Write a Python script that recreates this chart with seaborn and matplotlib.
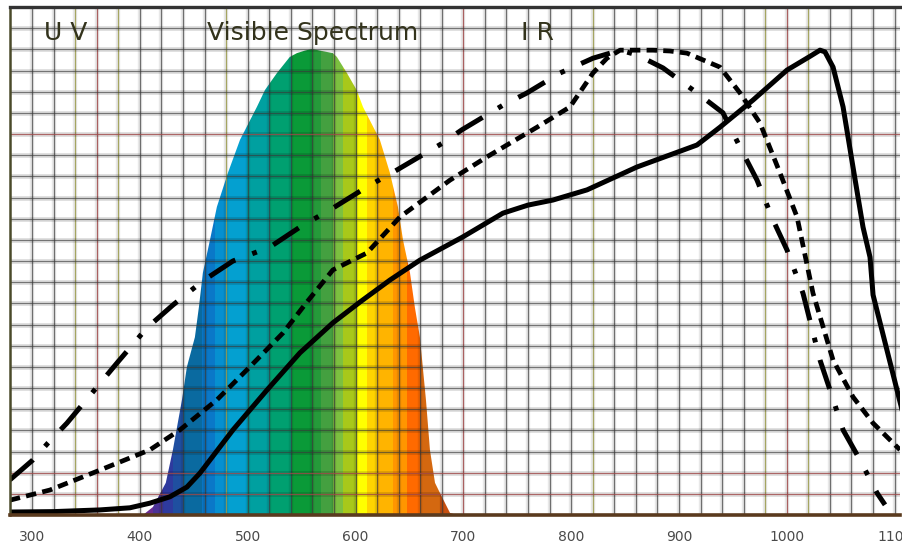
import numpy as np
import matplotlib
matplotlib.use("Agg")
import matplotlib.pyplot as plt
from matplotlib.patches import PathPatch
import seaborn as sns

# ---------------- data ----------------
solid_nm = [279.4, 320, 362.9, 390.7, 409.3, 427.8, 443.6, 455.7, 486.3, 517.8, 548.4, 579.0,
            604.1, 631.9, 659.7, 699.6, 736.7, 759.9, 783.1, 814.7, 861.0, 916.7, 938.0, 968.6,
            1000.2, 1020.6, 1030.8, 1035.4, 1042.9, 1052.2, 1061.4, 1070.7, 1077.2, 1080.0, 1106.9]
solid_val = [0.7, 0.8, 1.2, 1.7, 2.8, 4.3, 6.6, 9.9, 20.1, 29.5, 38.3, 45.4,
             50.3, 55.5, 60.2, 65.7, 71.3, 73.2, 74.4, 76.8, 82.2, 87.4, 91.6, 98.0,
             105.1, 108.2, 109.8, 109.4, 105.8, 96.4, 82.2, 68.0, 60.9, 52.0, 24.8]

dashed_nm = [279.4, 316.5, 362.9, 409.3, 437.1, 471.4, 502.0, 532.7, 554.9, 579.0, 610.6, 641.2,
             687.6, 721.9, 768.3, 798.9, 820.2, 833.2, 845.3, 875.9, 891.7, 907.4, 938.0, 956.6,
             975.1, 993.7, 1009.5, 1024.3, 1042.9, 1061.4, 1080.0, 1105.0]
dashed_val = [3.5, 5.9, 10.6, 15.4, 20.1, 27.2, 35.0, 43.0, 50.3, 57.9, 61.9, 70.4,
              79.1, 84.6, 91.6, 96.4, 104.4, 107.9, 109.8, 109.8, 109.6, 109.1, 105.8, 99.7,
              92.6, 80.8, 70.4, 52.4, 36.6, 27.9, 21.7, 15.4]

dashdot_nm = [279.4, 300.7, 314.7, 332.3, 360.1, 378.7, 406.5, 430.6, 458.4, 486.3, 520.6, 548.4,
              579.0, 610.6, 638.4, 681.1, 698.7, 736.7, 759.0, 789.6, 820.2, 845.3, 861.0, 885.2,
              916.7, 940.8, 959.4, 972.4, 987.2, 1000.2, 1015.0, 1030.8, 1040.1, 1052.2, 1067.9,
              1083.7, 1091.1]
dashdot_val = [8.3, 13.0, 17.0, 21.7, 30.2, 35.9, 44.2, 49.6, 55.3, 60.0, 63.3, 68.0,
               72.5, 77.5, 81.5, 87.9, 91.0, 96.8, 99.7, 104.4, 107.9, 109.8, 108.7, 105.6,
               99.7, 95.0, 85.5, 79.1, 69.7, 62.6, 52.4, 36.6, 29.5, 20.1, 13.0,
               5.2, 2.4]

spec_nm = [402.8, 412.1, 424.0, 430.6, 439.0, 443.6, 451.0, 454.7, 458.4, 465.0, 471.4, 481.6,
           492.8, 508.5, 516.0, 527.1, 539.0, 545.6, 553.0, 559.6, 567.0, 579.0, 582.7, 592.0,
           601.0, 606.9, 622.6, 631.9, 639.3, 644.0, 650.5, 655.0, 659.7, 665.3, 669.0, 673.7,
           678.3, 687.6, 694.0]
spec_val = [0.0, 1.9, 7.6, 15.4, 27.2, 35.0, 42.0, 49.1, 57.2, 65.0, 72.8, 80.8,
            88.6, 96.4, 100.4, 104.4, 108.2, 109.1, 109.7, 110.1, 109.7, 109.1, 108.2, 104.4,
            100.4, 96.4, 88.6, 80.8, 72.8, 65.0, 57.2, 49.1, 42.0, 27.2, 15.4, 7.6,
            5.2, 0.5, 0.0]

band_edges = [400, 412, 421, 431, 440, 458, 470, 481, 499, 521, 541, 560, 568, 579, 588,
              601, 611, 620, 635, 648, 660, 678, 700]
band_colors = ["#6a2c91", "#4b3296", "#2e3a9e", "#1f4fa0", "#0a6aa0", "#0a78c8", "#0690d0",
               "#04a0d0", "#00a0a0", "#00a070", "#0a9a38", "#259a3a", "#44a040", "#7cc040",
               "#a8c81a", "#ffff00", "#ffd400", "#ffb400", "#ff9600", "#ff6a00", "#d46810",
               "#c85010"]

tick_nm = [300, 400, 500, 600, 700, 800, 900, 1000, 1100]
tick_labels = ["300", "400", "500", "600", "700", "800", "900", "1000", "1100"]

region_labels = ["U V", "Visible Spectrum", "I R"]
region_x = [331, 560, 769]
region_y = 113.8

grid_v = list(range(300, 1101, 20))
grid_h = list(range(5, 120, 5))
red_v = [360, 700, 1000]
olive_v = [340, 380, 480, 820, 980, 1020]
red_h = [5, 10, 90]

# ---------------- figure ----------------
sns.set_theme(style="white")
plt.rcParams["lines.scale_dashes"] = False
fig = plt.figure(figsize=(9.02, 5.48), dpi=100)
fig.patch.set_facecolor("white")
ax = fig.add_axes([10 / 902, 33 / 548, 890 / 902, 508 / 548])
ax.set_xlim(279.5, 1105)
ax.set_ylim(0, 120)

# spectrum (colored bands clipped to the envelope)
env = ax.fill_between(spec_nm, 0, spec_val, color="none", lw=0)
clip = PathPatch(env.get_paths()[0], transform=ax.transData, fc="none", ec="none")
ax.add_patch(clip)
for i, c in enumerate(band_colors):
    sp = ax.axvspan(band_edges[i], band_edges[i + 1], color=c, lw=0, zorder=1)
    sp.set_clip_path(clip)

# grid
for x in grid_v:
    if x in red_v:
        core, a = "#a04848", 0.85
    elif x in olive_v:
        core, a = "#9a9a4a", 0.85
    else:
        core, a = "#3a3a3a", 0.7
    ax.axvline(x, color="black", alpha=0.09, lw=3.2, zorder=2)
    ax.axvline(x, color=core, alpha=a, lw=0.9, zorder=2)
for y in grid_h:
    if y in red_h:
        core, a = "#a04848", 0.8
    else:
        core, a = "#3a3a3a", 0.65
    ax.axhline(y, color="black", alpha=0.12, lw=3.6, zorder=2)
    ax.axhline(y, color=core, alpha=a, lw=0.9, zorder=2)

# curves
sns.lineplot(x=solid_nm, y=solid_val, ax=ax, color="black", lw=3.6, sort=False,
             estimator=None, zorder=5, solid_joinstyle="round", solid_capstyle="round")
sns.lineplot(x=dashed_nm, y=dashed_val, ax=ax, color="black", lw=3.4, sort=False,
             estimator=None, zorder=5, linestyle=(0, (7.5, 4.5)))
sns.lineplot(x=dashdot_nm, y=dashdot_val, ax=ax, color="black", lw=3.6, sort=False,
             estimator=None, zorder=5, linestyle=(0, (22, 13, 3.5, 13)))

# region labels
for lab, x in zip(region_labels, region_x):
    ax.text(x, region_y, lab, ha="center", va="center", fontsize=18,
            family=["Liberation Sans Narrow", "DejaVu Sans"], color="#33331c", zorder=6)

# axes styling
ax.set_xticks(tick_nm, tick_labels)
ax.set_yticks([])
ax.tick_params(axis="x", length=0, pad=11, labelsize=10, labelcolor="#4a4a4a")
for lbl in ax.get_xticklabels():
    lbl.set_family(["Liberation Sans Narrow", "DejaVu Sans"])
ax.spines["right"].set_visible(False)
ax.spines["top"].set_color("#333333")
ax.spines["top"].set_linewidth(2.4)
ax.spines["bottom"].set_color("#5a3a1e")
ax.spines["bottom"].set_linewidth(2.6)
ax.spines["left"].set_color("#4a4a2a")
ax.spines["left"].set_linewidth(1.8)
for s in ax.spines.values():
    s.set_zorder(7)
ax.set_xlabel("")
ax.set_ylabel("")

fig.savefig("out.png", dpi=100)
